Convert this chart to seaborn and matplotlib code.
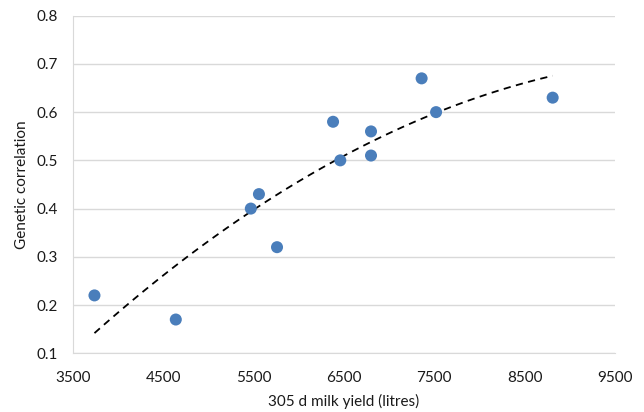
import numpy as np
import pandas as pd
import seaborn as sns
import matplotlib.pyplot as plt

# data
milk_yield = [3740, 4640, 5470, 5560, 5760, 6380, 6460, 6800, 6800, 7360, 7520, 8810]
genetic_corr = [0.22, 0.17, 0.40, 0.43, 0.32, 0.58, 0.50, 0.56, 0.51, 0.67, 0.60, 0.63]
x_ticks = [3500, 4500, 5500, 6500, 7500, 8500, 9500]
y_ticks = [0.1, 0.2, 0.3, 0.4, 0.5, 0.6, 0.7, 0.8]

df = pd.DataFrame({"yield": milk_yield, "corr": genetic_corr})

sns.set_style("white")
plt.rcParams['font.family'] = ['Lato', 'DejaVu Sans']

fig = plt.figure(figsize=(6.44, 4.12), dpi=100)
ax = fig.add_axes([0.113, 0.1425, 0.842, 0.8195])

# 2nd order polynomial trendline
sns.regplot(data=df, x="yield", y="corr", order=2, ci=None, scatter=False, ax=ax,
            line_kws={"color": "black", "linestyle": (0, (4, 3)), "linewidth": 1.3})
sns.scatterplot(data=df, x="yield", y="corr", ax=ax, color="#4a7ebb", s=75,
                edgecolor="none", zorder=3)

ax.set_xlim(3500, 9500)
ax.set_ylim(0.1, 0.8)
ax.set_xticks(x_ticks)
ax.set_yticks(y_ticks)
ax.set_yticklabels([f"{v:.1f}" for v in y_ticks])
ax.yaxis.grid(True, color="#d9d9d9", linewidth=1)
ax.xaxis.grid(False)
ax.set_axisbelow(True)
for s in ["top", "right"]:
    ax.spines[s].set_visible(False)
ax.spines["left"].set_color("#d9d9d9")
ax.spines["bottom"].set_color("#d9d9d9")
ax.tick_params(length=0, labelsize=11, colors="#1a1a1a")
ax.tick_params(axis="x", pad=13)
ax.tick_params(axis="y", pad=11)

ax.set_xlabel("305 d milk yield (litres)", fontsize=11, color="#1a1a1a", labelpad=6)
ax.set_ylabel("Genetic correlation", fontsize=11, color="#1a1a1a", labelpad=5)

fig.savefig("out.png", dpi=100)
